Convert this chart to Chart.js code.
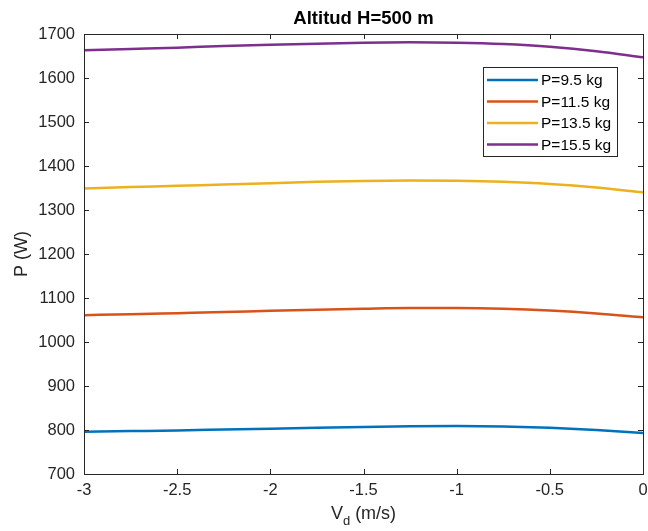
<!DOCTYPE html>
<html>
<head>
<meta charset="utf-8">
<script src="https://cdn.jsdelivr.net/npm/chart.js@4/dist/chart.umd.min.js"></script>
<style>
  html, body { margin: 0; padding: 0; background: #fff; }
  #wrap { width: 648px; height: 531px; }
</style>
</head>
<body>
<div id="wrap"><canvas id="powerChart" width="648" height="531"></canvas></div>
<script>
// descent speed (m/s)
var vd = [-3, -2.75, -2.5, -2.25, -2, -1.75, -1.5, -1.25, -1, -0.75, -0.5, -0.25, 0];
// power (W) for each payload mass
var p95  = [796, 797.5, 799, 801, 803, 805, 807, 808.5, 809, 808, 805, 800, 793];
var p115 = [1061, 1063, 1065.5, 1068, 1071, 1073.5, 1075.5, 1077, 1077, 1075.5, 1071.5, 1065, 1056];
var p135 = [1349, 1352, 1355, 1358, 1361, 1364, 1366, 1367, 1366.5, 1364, 1359, 1351, 1340];
var p155 = [1663, 1666, 1669, 1672.5, 1675.5, 1678, 1680, 1681, 1680, 1677, 1671, 1661, 1647];
var labels = ["P=9.5 kg", "P=11.5 kg", "P=13.5 kg", "P=15.5 kg"];
var colors = ["#0072BD", "#D95319", "#EDB120", "#7E2F8E"];
var xTicks = [-3, -2.5, -2, -1.5, -1, -0.5, 0];
var yTicks = [700, 800, 900, 1000, 1100, 1200, 1300, 1400, 1500, 1600, 1700];

var FONT = "'Liberation Sans', Arial, sans-serif";
var INK = "#262626";

function toPoints(ys) {
  return vd.map(function (x, i) { return { x: x, y: ys[i] }; });
}

var series = [p95, p115, p135, p155];
var datasets = series.map(function (ys, i) {
  return {
    label: labels[i],
    data: toPoints(ys),
    borderColor: colors[i],
    backgroundColor: colors[i],
    borderWidth: 2.5,
    pointRadius: 0,
    cubicInterpolationMode: 'monotone',
    fill: false
  };
});

// box, inward ticks, title, x label with subscript and legend (matlab look)
var axesDecor = {
  id: 'axesDecor',
  afterDraw: function (chart) {
    var ctx = chart.ctx;
    var a = chart.chartArea;
    var xs = chart.scales.x, ys = chart.scales.y;
    ctx.save();
    ctx.strokeStyle = INK;
    ctx.lineWidth = 1;
    ctx.strokeRect(Math.round(a.left) + 0.5, Math.round(a.top) + 0.5,
      Math.round(a.right - a.left), Math.round(a.bottom - a.top));
    ctx.beginPath();
    xTicks.forEach(function (v) {
      var px = Math.round(xs.getPixelForValue(v)) + 0.5;
      ctx.moveTo(px, a.bottom); ctx.lineTo(px, a.bottom - 5);
      ctx.moveTo(px, a.top); ctx.lineTo(px, a.top + 5);
    });
    yTicks.forEach(function (v) {
      var py = Math.round(ys.getPixelForValue(v)) + 0.5;
      ctx.moveTo(a.left, py); ctx.lineTo(a.left + 5, py);
      ctx.moveTo(a.right, py); ctx.lineTo(a.right - 5, py);
    });
    ctx.stroke();

    // title
    ctx.fillStyle = "#000";
    ctx.font = "bold 18.5px " + FONT;
    ctx.textAlign = "center";
    ctx.textBaseline = "alphabetic";
    ctx.fillText("Altitud H=500 m", (a.left + a.right) / 2, 24);

    // x axis label: V_d (m/s)
    ctx.fillStyle = INK;
    ctx.font = "18px " + FONT;
    var wV = ctx.measureText("V").width;
    var rest = " (m/s)";
    var wR = ctx.measureText(rest).width;
    ctx.font = "13px " + FONT;
    var wd = ctx.measureText("d").width;
    var total = wV + wd + wR;
    var x0 = (a.left + a.right) / 2 - total / 2;
    var base = 519;
    ctx.textAlign = "left";
    ctx.font = "18px " + FONT;
    ctx.fillText("V", x0, base);
    ctx.font = "13px " + FONT;
    ctx.fillText("d", x0 + wV, base + 6);
    ctx.font = "18px " + FONT;
    ctx.fillText(rest, x0 + wV + wd, base);

    // legend
    var lx = 483, ly = 67, lw = 134, lh = 89;
    ctx.fillStyle = "#fff";
    ctx.fillRect(lx, ly, lw, lh);
    ctx.strokeStyle = INK;
    ctx.lineWidth = 1;
    ctx.strokeRect(lx + 0.5, ly + 0.5, lw, lh);
    ctx.font = "15.5px " + FONT;
    ctx.textBaseline = "middle";
    chart.data.datasets.forEach(function (ds, i) {
      var yy = ly + 13 + i * 21.5;
      ctx.strokeStyle = ds.borderColor;
      ctx.lineWidth = 2.5;
      ctx.beginPath();
      ctx.moveTo(lx + 4, yy); ctx.lineTo(lx + 55, yy);
      ctx.stroke();
      ctx.fillStyle = "#000";
      ctx.fillText(ds.label, lx + 58, yy + 1);
    });
    ctx.restore();
  }
};

new Chart(document.getElementById("powerChart"), {
  type: 'line',
  data: { datasets: datasets },
  plugins: [axesDecor],
  options: {
    responsive: false,
    animation: false,
    layout: { padding: { top: 34, right: 5, left: 0, bottom: 0 } },
    plugins: { legend: { display: false }, tooltip: { enabled: false } },
    scales: {
      x: {
        type: 'linear',
        min: -3, max: 0,
        grid: { display: false, drawTicks: false },
        border: { display: false },
        afterBuildTicks: function (s) { s.ticks = xTicks.map(function (v) { return { value: v }; }); },
        afterFit: function (s) { s.height = 57; s.paddingLeft = 0; s.paddingRight = 0; },
        ticks: {
          padding: 7,
          color: INK,
          font: { family: FONT, size: 16.5 },
          maxRotation: 0,
          callback: function (v) { return String(v); }
        }
      },
      y: {
        min: 700, max: 1700,
        grid: { display: false, drawTicks: false },
        border: { display: false },
        afterBuildTicks: function (s) { s.ticks = yTicks.map(function (v) { return { value: v }; }); },
        afterFit: function (s) { s.width = 84; },
        title: {
          display: true,
          text: "P (W)",
          color: INK,
          font: { family: FONT, size: 18 },
          padding: { top: 11, bottom: 0 }
        },
        ticks: {
          padding: 9,
          color: INK,
          font: { family: FONT, size: 16.5 },
          callback: function (v) { return String(v); }
        }
      }
    }
  }
});
</script>
</body>
</html>
